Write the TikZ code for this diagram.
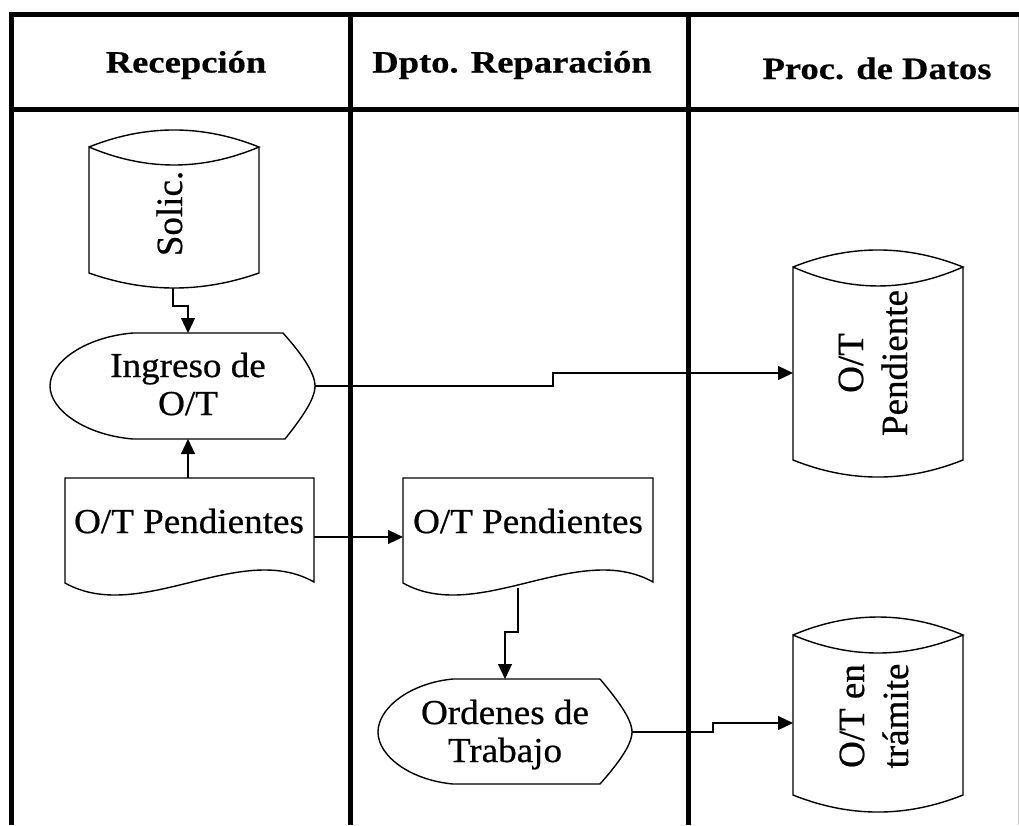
\documentclass[tikz,border=0pt]{standalone}
\usepackage{fontspec}
\setmainfont{Liberation Serif}
\newfontfamily\bodyf{Liberation Serif}[FakeStretch=1.06,FakeBold=0.6]
\newfontfamily\rotf{Liberation Serif}[FakeBold=0.6]
\newfontfamily\headf{Liberation Serif}[FakeStretch=1.18,FakeBold=0.5]
\usetikzlibrary{arrows.meta}
\begin{document}
\begin{tikzpicture}[x=1pt,y=-1pt,
  frame/.style={line width=5pt},
  outl/.style={line width=1.4pt},
  conn/.style={line width=1.2pt},
  arr/.style={conn,-{Triangle[length=15pt,width=14pt]}},
  body/.style={font=\bodyf\fontsize{35}{38}\selectfont, align=center, inner sep=0pt, anchor=base},
  rot/.style={font=\rotf\fontsize{37}{44}\selectfont, align=center, rotate=90, inner sep=0pt, anchor=base},
  head/.style={font=\headf\fontsize{31}{36}\selectfont\bfseries, inner sep=0pt, anchor=base}]
\useasboundingbox (0,0) rectangle (1019,825);
\fill[white] (0,0) rectangle (1019,825);

% frame
\draw[gray!40, line width=1pt] (1018,14) -- (1018,825);
\draw[frame, line join=miter] (1019,14) -- (11,14) -- (11,825);
\draw[frame] (11,109) -- (1019,109);
\draw[frame] (350,14) -- (350,825);
\draw[frame] (688,14) -- (688,825);

% headers
\node[head] (hRec) at (186,72.5) {Recepción};
\node[head] (hRep) at (512,72.5) {Dpto. Reparación};
\node[head] (hDat) at (877,79) {Proc. de Datos};

% cylinder Solic.
\draw[outl] (89,147) .. controls (145.7,124.3) and (202.3,124.3) .. (259,147)
  .. controls (202.3,171) and (145.7,171) .. (89,147) -- (89,273)
  .. controls (145.7,293) and (202.3,293) .. (259,273) -- (259,147);
\node[rot] (tSolic) at (182,213.5) {Solic.};

% cylinder O/T Pendiente
\draw[outl] (793,267) .. controls (849.7,244.3) and (906.3,244.3) .. (963,267)
  .. controls (906.3,292.3) and (849.7,292.3) .. (793,267) -- (793,460)
  .. controls (849.7,482.7) and (906.3,482.7) .. (963,460) -- (963,267);
\node[rot] (tPend) at (907,363) {O/T\\Pendiente};

% cylinder O/T en tramite
\draw[outl] (793,635) .. controls (849.7,611) and (906.3,611) .. (963,635)
  .. controls (906.3,659) and (849.7,659) .. (793,635) -- (793,795)
  .. controls (849.7,817.7) and (906.3,817.7) .. (963,795) -- (963,635);
\node[rot] (tTram) at (908,716) {O/T en\\trámite};

% display Ingreso de O/T
\draw[outl] (133,333) -- (283,333) .. controls (300,352) and (315,372) .. (315,386)
  .. controls (315,400) and (300,420) .. (285,439) -- (133,439)
  .. controls (85,435) and (50,410) .. (50,386)
  .. controls (50,362) and (85,337) .. (133,333) -- cycle;
\node[body] (tIng) at (188,415) {Ingreso de\\O/T};

% display Ordenes de Trabajo
\draw[outl] (453,679) -- (600,679) .. controls (615,697) and (632,718) .. (632,732)
  .. controls (632,746) and (615,767) .. (600,784) -- (453,784)
  .. controls (410,780) and (378,756) .. (378,732)
  .. controls (378,708) and (410,683) .. (453,679) -- cycle;
\node[body] (tOrd) at (505,762) {Ordenes de\\Trabajo};

% documents
\draw[outl] (65,478) -- (314,478) -- (314,582)
  .. controls (240,540) and (140,625) .. (65,583) -- cycle;
\node[body] (tDoc1) at (189,533) {O/T Pendientes};
\draw[outl] (403,478) -- (653,478) -- (653,582)
  .. controls (578,540) and (478,625) .. (403,583) -- cycle;
\node[body] (tDoc2) at (528,533) {O/T Pendientes};

% connection points
\coordinate (solicS) at (173,288);
\coordinate (ingN) at (188,333);
\coordinate (ingS) at (188,439);
\coordinate (ingE) at (315,386);
\coordinate (pendW) at (793,373);
\coordinate (doc1N) at (188,478);
\coordinate (doc1E) at (314,537);
\coordinate (doc2W) at (403,537);
\coordinate (doc2S) at (518,588);
\coordinate (ordN) at (505,679);
\coordinate (ordE) at (632,732);
\coordinate (tramW) at (793,723);

% connectors
\draw[arr] (solicS) -- (solicS |- 0,306) -| (ingN);
\draw[arr] (doc1N) -- (ingS);
\draw[arr] (ingE) -- (553,386) |- (pendW);
\draw[arr] (doc1E) -- (doc2W);
\draw[arr] (doc2S) -- (doc2S |- 0,632) -| (ordN);
\draw[arr] (ordE) -- (713,732) |- (tramW);
\end{tikzpicture}
\end{document}
